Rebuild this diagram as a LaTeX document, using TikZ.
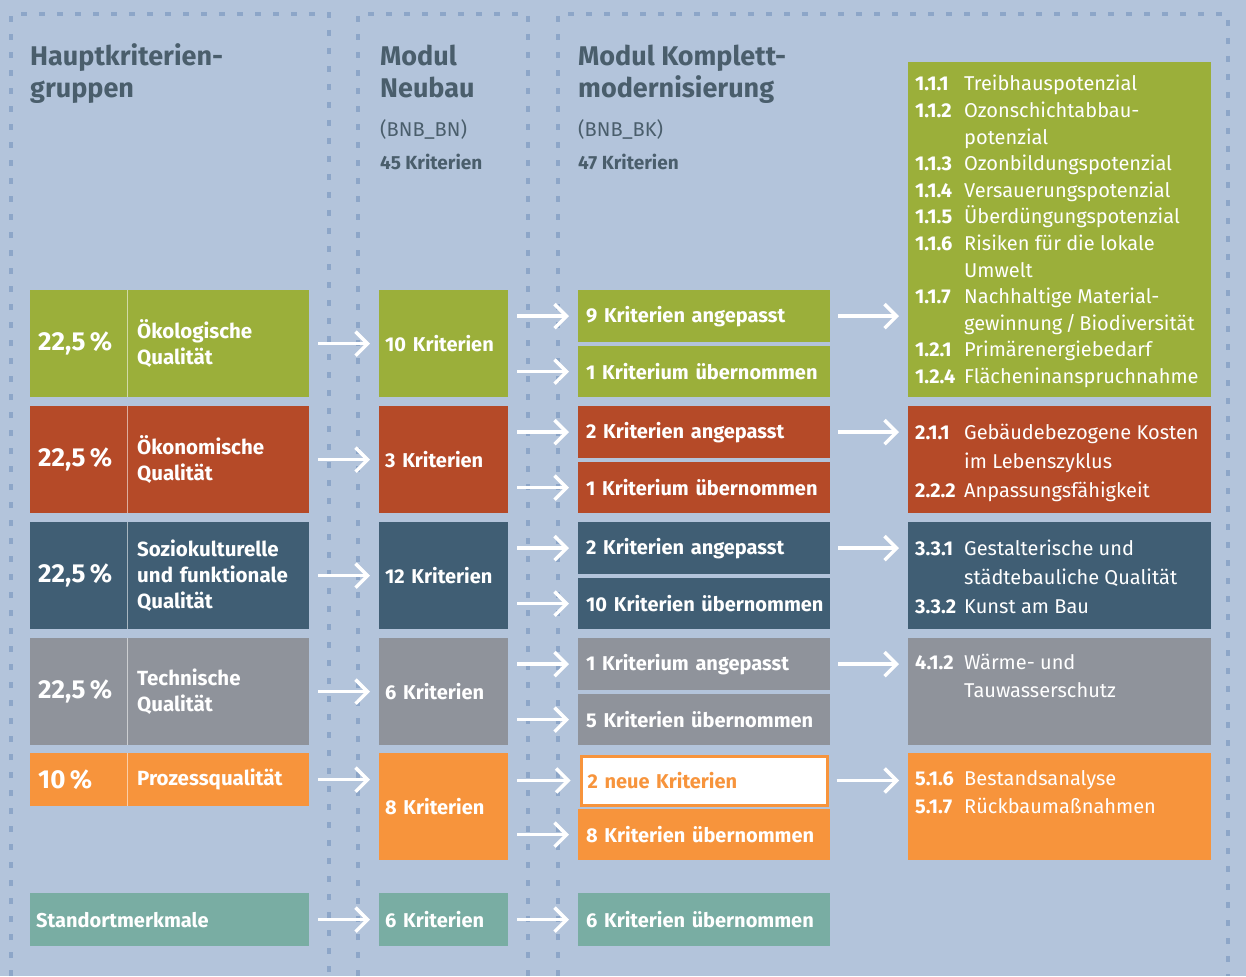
\documentclass[tikz,border=0pt]{standalone}
\usepackage{fontspec}
\setmainfont{Fira Sans}
\usetikzlibrary{arrows.meta}
\definecolor{bgc}{HTML}{B3C4DB}
\definecolor{dashc}{HTML}{8DA6C8}
\definecolor{cgreen}{HTML}{9BAF3A}
\definecolor{cred}{HTML}{B54A28}
\definecolor{cblue}{HTML}{405E74}
\definecolor{cgrey}{HTML}{8F939B}
\definecolor{corange}{HTML}{F7943C}
\definecolor{cteal}{HTML}{79ADA3}
\definecolor{chead}{HTML}{4A5E6C}
\tikzset{
  box/.style={anchor=north west, inner ysep=0pt, text=white, align=left,
    font=\fontsize{20}{26}\selectfont\bfseries},
  pct/.style={box, text width=81pt, inner xsep=8pt, minimum height=#1,
    font=\fontsize{26}{30}\selectfont\bfseries},
  lbl/.style={box, text width=162pt, inner xsep=10pt, minimum height=#1,
    font=\fontsize{20.5}{26}\selectfont\bfseries},
  mid/.style={box, text width=117pt, inner xsep=6pt, minimum height=#1},
  sub/.style={box, text width=236pt, inner xsep=8pt, minimum height=#1},
  det/.style={anchor=north west, inner sep=0pt, minimum width=303pt, minimum height=#1},
  listtext/.style={anchor=base west, inner sep=0pt, text=white},
  head/.style={anchor=base west, inner sep=0pt, text=chead, font=\fontsize{27}{32}\selectfont\bfseries},
  headsub/.style={anchor=base west, inner sep=0pt, text=chead, font=\fontsize{20}{24}\selectfont},
  headcnt/.style={anchor=base west, inner sep=0pt, text=chead, font=\fontsize{19}{24}\selectfont\bfseries},
  dashline/.style={dashc, line width=3.2pt, dash pattern=on 6pt off 12pt},
  arr/.style={white, line width=3.5pt, -{Straight Barb[length=12pt,width=24pt]}, shorten <=9pt, shorten >=9pt},
  divider/.style={white, opacity=0.55, line width=1pt}
}
\begin{document}
\begin{tikzpicture}[x=1pt,y=-1pt]
\fill[bgc] (0,0) rectangle (1246,976);
\useasboundingbox (0,0) rectangle (1246,976);
% dashed frames
\draw[dashline] (11,976) -- (11,14) -- (329,14) -- (329,976);
\draw[dashline] (358,976) -- (358,14) -- (528,14) -- (528,976);
\draw[dashline] (558,976) -- (558,14) -- (1228,14) -- (1228,976);
% headers
\node[head] (h1a) at (30,66) {Hauptkriterien-};
\node[head] (h1b) at (30,98) {gruppen};
\node[head] (h2a) at (380,66) {Modul};
\node[head] (h2b) at (380,98) {Neubau};
\node[headsub] (h2c) at (380,137) {(BNB\_BN)};
\node[headcnt] (h2d) at (380,170) {45 Kriterien};
\node[head] (h3a) at (578,66) {Modul Komplett-};
\node[head] (h3b) at (578,98) {modernisierung};
\node[headsub] (h3c) at (578,137) {(BNB\_BK)};
\node[headcnt] (h3d) at (578,170) {47 Kriterien};
% column 1
\node[pct=107pt, fill=cgreen] (p1) at (30,290) {22,5\,\%};
\node[lbl=107pt, fill=cgreen] (l1) at (127,290) {Ökologische\\Qualität};
\node[pct=107pt, fill=cred] (p2) at (30,406) {22,5\,\%};
\node[lbl=107pt, fill=cred] (l2) at (127,406) {Ökonomische\\Qualität};
\node[pct=107pt, fill=cblue] (p3) at (30,522) {22,5\,\%};
\node[lbl=107pt, fill=cblue] (l3) at (127,522) {Soziokulturelle\\und funktionale\\Qualität};
\node[pct=107pt, fill=cgrey] (p4) at (30,638) {22,5\,\%};
\node[lbl=107pt, fill=cgrey] (l4) at (127,638) {Technische\\Qualität};
\node[pct=53pt, fill=corange] (p5) at (30,753) {10\,\%};
\node[lbl=53pt, fill=corange] (l5) at (127,753) {Prozessqualität};
\node[box, fill=cteal, text width=267pt, inner xsep=6pt, minimum height=53pt] (l6) at (30,893) {Standortmerkmale};
\foreach \i in {1,...,5} {\draw[divider] (p\i.north east) -- (p\i.south east);}
% column 2
\node[mid=107pt, fill=cgreen] (n1) at (379,290) {10 Kriterien};
\node[mid=107pt, fill=cred] (n2) at (379,406) {3 Kriterien};
\node[mid=107pt, fill=cblue] (n3) at (379,522) {12 Kriterien};
\node[mid=107pt, fill=cgrey] (n4) at (379,638) {6 Kriterien};
\node[mid=107pt, fill=corange] (n5) at (379,753) {8 Kriterien};
\node[mid=53pt, fill=cteal] (n6) at (379,893) {6 Kriterien};
% column 3
\node[sub=52pt, fill=cgreen] (a1) at (578,290) {9 Kriterien angepasst};
\node[sub=51pt, fill=cgreen] (b1) at (578,346) {1 Kriterium übernommen};
\node[sub=52pt, fill=cred] (a2) at (578,406) {2 Kriterien angepasst};
\node[sub=51pt, fill=cred] (b2) at (578,462) {1 Kriterium übernommen};
\node[sub=52pt, fill=cblue] (a3) at (578,522) {2 Kriterien angepasst};
\node[sub=51pt, fill=cblue] (b3) at (578,578) {\mbox{10 Kriterien übernommen}};
\node[sub=52pt, fill=cgrey] (a4) at (578,638) {1 Kriterium angepasst};
\node[sub=51pt, fill=cgrey] (b4) at (578,694) {5 Kriterien übernommen};
\node[sub=49pt, fill=white, draw=corange, line width=3pt, text=corange, text width=233pt, inner xsep=6.5pt] (a5) at (579.5,754.5) {2 neue Kriterien};
\node[sub=51pt, fill=corange] (b5) at (578,809) {8 Kriterien übernommen};
\node[sub=53pt, fill=cteal] (b6) at (578,893) {6 Kriterien übernommen};
% column 4
\node[det=335pt, fill=cgreen] (d1) at (908,62) {};
\node[det=107pt, fill=cred] (d2) at (908,406) {};
\node[det=107pt, fill=cblue] (d3) at (908,522) {};
\node[det=107pt, fill=cgrey] (d4) at (908,638) {};
\node[det=107pt, fill=corange] (d5) at (908,753) {};
\node[listtext, font=\fontsize{20}{26.6}\selectfont] (t1) at (915,91) {%
\begin{tabular}[t]{@{}p{49pt}@{}l@{}}
\textbf{1.1.1} & Treibhauspotenzial\\
\textbf{1.1.2} & Ozonschichtabbau-\\
 & potenzial\\
\textbf{1.1.3} & Ozonbildungspotenzial\\
\textbf{1.1.4} & Versauerungspotenzial\\
\textbf{1.1.5} & Überdüngungspotenzial\\
\textbf{1.1.6} & Risiken für die lokale\\
 & Umwelt\\
\textbf{1.1.7} & Nachhaltige Material-\\
 & gewinnung\,/\,Biodiversität\\
\textbf{1.2.1} & Primärenergiebedarf\\
\textbf{1.2.4} & Flächeninanspruchnahme
\end{tabular}};
\node[listtext, font=\fontsize{20}{29}\selectfont] (t2) at (915,439) {%
\begin{tabular}[t]{@{}p{49pt}@{}l@{}}
\textbf{2.1.1} & Gebäudebezogene Kosten\\
 & im Lebenszyklus\\
\textbf{2.2.2} & Anpassungsfähigkeit
\end{tabular}};
\node[listtext, font=\fontsize{20}{29}\selectfont] (t3) at (915,555) {%
\begin{tabular}[t]{@{}p{49pt}@{}l@{}}
\textbf{3.3.1} & Gestalterische und\\
 & städtebauliche Qualität\\
\textbf{3.3.2} & Kunst am Bau
\end{tabular}};
\node[listtext, font=\fontsize{20}{28.5}\selectfont] (t4) at (915,669) {%
\begin{tabular}[t]{@{}p{49pt}@{}l@{}}
\textbf{4.1.2} & Wärme- und\\
 & Tauwasserschutz
\end{tabular}};
\node[listtext, font=\fontsize{20}{28}\selectfont] (t5) at (915,785) {%
\begin{tabular}[t]{@{}p{49pt}@{}l@{}}
\textbf{5.1.6} & Bestandsanalyse\\
\textbf{5.1.7} & Rückbaumaßnahmen
\end{tabular}};
% arrows column 1 -> column 2
\foreach \i in {1,...,6} {\draw[arr] (l\i.east) -- (l\i.east -| n\i.west);}
% arrows column 2 -> column 3
\foreach \i in {1,...,5} {
  \draw[arr] (n\i.east |- a\i.west) -- (a\i.west);
  \draw[arr] (n\i.east |- b\i.west) -- (b\i.west);
}
\draw[arr] (n6.east) -- (b6.west);
% arrows column 3 -> column 4
\foreach \i in {1,...,5} {\draw[arr, shorten <=8pt] (a\i.east) -- (a\i.east -| d\i.west);}
\end{tikzpicture}
\end{document}
